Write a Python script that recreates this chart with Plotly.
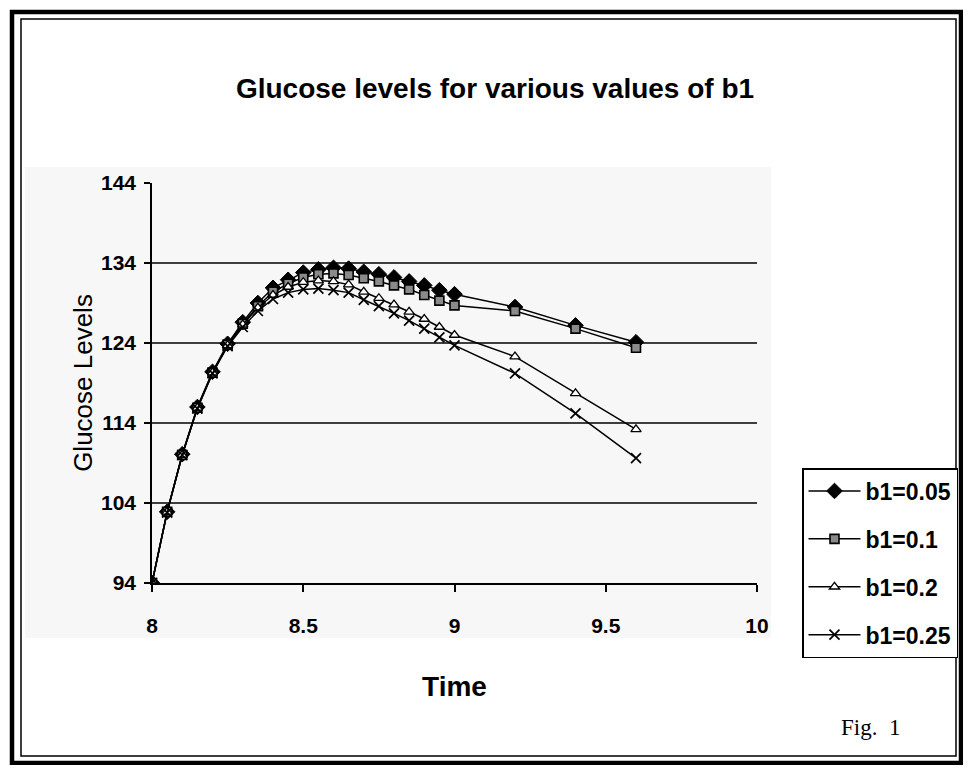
import plotly.graph_objects as go

# ---- data ----
time = [8.0, 8.05, 8.1, 8.15, 8.2, 8.25, 8.3, 8.35, 8.4, 8.45, 8.5, 8.55, 8.6,
        8.65, 8.7, 8.75, 8.8, 8.85, 8.9, 8.95, 9.0, 9.2, 9.4, 9.6]
b1_005 = [94.0, 102.9, 110.1, 116.0, 120.4, 123.9, 126.6, 129.0, 130.9, 131.9, 132.8, 133.2, 133.4,
          133.3, 132.9, 132.6, 132.2, 131.7, 131.2, 130.6, 130.1, 128.5, 126.2, 124.1]
b1_01 = [94.0, 102.9, 110.0, 115.9, 120.3, 123.8, 126.4, 128.6, 130.4, 131.4, 132.2, 132.6, 132.7,
         132.5, 132.1, 131.7, 131.2, 130.7, 130.0, 129.3, 128.7, 128.0, 125.8, 123.4]
b1_02 = [94.0, 102.9, 110.0, 115.9, 120.3, 123.7, 126.3, 128.4, 130.0, 131.0, 131.6, 131.8, 131.7,
         131.3, 130.4, 129.6, 128.8, 127.9, 127.0, 126.0, 125.0, 122.3, 117.7, 113.2]
b1_025 = [94.0, 102.8, 110.0, 115.8, 120.2, 123.6, 126.0, 128.0, 129.5, 130.3, 130.7, 130.8, 130.6,
          130.3, 129.4, 128.6, 127.7, 126.8, 125.8, 124.7, 123.7, 120.2, 115.2, 109.6]
series_names = ["b1=0.05", "b1=0.1", "b1=0.2", "b1=0.25"]
x_ticks = [8, 8.5, 9, 9.5, 10]
x_tick_labels = ["8", "8.5", "9", "9.5", "10"]
y_ticks = [94, 104, 114, 124, 134, 144]
y_tick_labels = ["94", "104", "114", "124", "134", "144"]
grid_levels = [104, 114, 124, 134]

# page body has an 8px margin; size the figure to fit inside the window
OFF = 8
W, H = 971 - 2 * OFF, 773 - 2 * OFF
def px(x):
    return (x - OFF) / W
def py(y):
    return 1 - (y - OFF) / H

SANS = "Liberation Sans, Arial, sans-serif"

styles = [
    dict(symbol="diamond", size=12, color="black", line=dict(color="black", width=1)),
    dict(symbol="square", size=9, color="#8a8a8a", line=dict(color="black", width=1.6)),
    dict(symbol="triangle-up", size=9, color="white", line=dict(color="black", width=1.3)),
    dict(symbol="x-thin", size=10, color="black", line=dict(color="black", width=1.7)),
]

fig = go.Figure()
for name, vals, st, grp in zip(series_names, [b1_005, b1_01, b1_02, b1_025], styles, "abcd"):
    fig.add_trace(go.Scatter(
        x=time, y=vals, name=name, mode="lines+markers",
        line=dict(color="black", width=1.5),
        marker=st, legendgroup=grp,
    ))

shapes = []
# faint grey chart panel
shapes.append(dict(type="rect", xref="paper", yref="paper",
                   x0=px(25), x1=px(771), y0=py(638), y1=py(167),
                   fillcolor="#f7f7f7", line=dict(width=0), layer="below"))
# horizontal gridlines
for g in grid_levels:
    shapes.append(dict(type="line", xref="x domain", yref="y", x0=0, x1=1, y0=g, y1=g,
                       line=dict(color="black", width=1.5), layer="below"))
# page frame
shapes.append(dict(type="rect", xref="paper", yref="paper",
                   x0=px(12), x1=px(961), y0=py(763), y1=py(12),
                   line=dict(color="black", width=4.5), fillcolor="rgba(0,0,0,0)"))
shapes.append(dict(type="rect", xref="paper", yref="paper",
                   x0=px(21), x1=px(956), y0=py(756), y1=py(19),
                   line=dict(color="black", width=1.5), fillcolor="rgba(0,0,0,0)"))

fig.update_layout(
    template="none",
    width=W, height=H, autosize=False,
    margin=dict(l=0, r=0, t=0, b=0, pad=0),
    paper_bgcolor="white", plot_bgcolor="rgba(0,0,0,0)",
    font=dict(family=SANS, color="black"),
    title=dict(text="<b>Glucose levels for various values of b1</b>",
               x=px(495), xanchor="center", y=py(88), yanchor="middle",
               font=dict(family=SANS, size=28, color="black")),
    xaxis=dict(domain=[px(152), px(757)], range=[8, 10], automargin=False,
               tickvals=x_ticks, ticktext=x_tick_labels,
               showline=True, linecolor="black", linewidth=1.5,
               ticks="outside", ticklen=7, tickcolor="black", tickwidth=1.5,
               showgrid=False, zeroline=False, ticklabelstandoff=16,
               tickfont=dict(family=SANS, size=21, color="black", weight="bold"),
               title=dict(text="<b>Time</b>", standoff=40,
                          font=dict(family=SANS, size=28, color="black"))),
    yaxis=dict(domain=[py(583), py(183)], range=[94, 144], automargin=False,
               tickvals=y_ticks, ticktext=y_tick_labels,
               showline=True, linecolor="black", linewidth=1.5,
               ticks="outside", ticklen=6, tickcolor="black", tickwidth=1.5,
               showgrid=False, zeroline=False, ticklabelstandoff=4,
               tickfont=dict(family=SANS, size=21, color="black", weight="bold"),
               title=dict(text="Glucose Levels", standoff=1,
                          font=dict(family=SANS, size=26, color="black"))),
    legend=dict(x=px(802), xanchor="left", y=py(468), yanchor="top",
                bgcolor="white", bordercolor="black", borderwidth=1.5,
                font=dict(family=SANS, size=23, color="black", weight="bold"),
                tracegroupgap=15, itemwidth=52),
    shapes=shapes,
    annotations=[dict(text="Fig.  1", xref="paper", yref="paper",
                      x=px(870), y=py(727), xanchor="center", yanchor="middle",
                      showarrow=False,
                      font=dict(family="Liberation Serif, Times New Roman, serif",
                                size=23, color="black"))],
    showlegend=True,
)

fig.write_html("out.html")
